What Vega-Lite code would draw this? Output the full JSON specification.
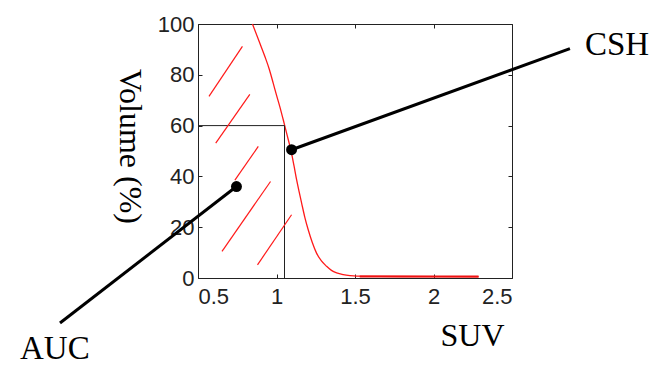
{
  "$schema": "https://vega.github.io/schema/vega-lite/v6.json",
  "width": 314,
  "height": 254,
  "autosize": "none",
  "padding": {"left": 198, "top": 24, "right": 142, "bottom": 87},
  "background": "white",
  "config": {
    "view": {"stroke": null},
    "axis": {
      "grid": false,
      "domainColor": "#222",
      "domainWidth": 1,
      "tickColor": "#222",
      "tickSize": -4,
      "labelFont": "Liberation Sans",
      "labelFontSize": 22,
      "labelColor": "#222",
      "titleFont": "Liberation Serif",
      "titleFontSize": 32,
      "titleFontWeight": "normal",
      "titleColor": "#000"
    }
  },
  "datasets": {
    "curve": [
      {"suv": 0.847, "vol": 100},
      {"suv": 0.894, "vol": 92.4},
      {"suv": 0.926, "vol": 87.2},
      {"suv": 0.955, "vol": 82.0},
      {"suv": 0.979, "vol": 76.7},
      {"suv": 1.0, "vol": 72.0},
      {"suv": 1.021, "vol": 67.5},
      {"suv": 1.043, "vol": 62.3},
      {"suv": 1.064, "vol": 57.1},
      {"suv": 1.096, "vol": 49.1},
      {"suv": 1.112, "vol": 44.0},
      {"suv": 1.128, "vol": 38.7},
      {"suv": 1.144, "vol": 34.0},
      {"suv": 1.16, "vol": 29.5},
      {"suv": 1.18, "vol": 24.0},
      {"suv": 1.202, "vol": 19.0},
      {"suv": 1.228, "vol": 14.0},
      {"suv": 1.255, "vol": 9.8},
      {"suv": 1.285, "vol": 6.8},
      {"suv": 1.319, "vol": 4.6},
      {"suv": 1.35, "vol": 3.0},
      {"suv": 1.383, "vol": 2.0},
      {"suv": 1.425, "vol": 1.3},
      {"suv": 1.468, "vol": 0.9},
      {"suv": 1.511, "vol": 0.7},
      {"suv": 1.8, "vol": 0.6},
      {"suv": 2.287, "vol": 0.5}
    ],
    "flat": [
      {"x": 1.53, "y": 0.6, "x2": 2.287, "y2": 0.6}
    ],
    "hatch": [
      {"x": 0.57, "y": 71.5, "x2": 0.783, "y2": 91.2},
      {"x": 0.613, "y": 53.1, "x2": 0.83, "y2": 72.3},
      {"x": 0.735, "y": 38.5, "x2": 0.884, "y2": 51.8},
      {"x": 0.653, "y": 10.5, "x2": 0.962, "y2": 38.0},
      {"x": 0.879, "y": 5.2, "x2": 1.096, "y2": 24.9}
    ],
    "guide": [
      {"x": 0.5, "y": 60, "x2": 1.051, "y2": 60},
      {"x": 1.051, "y": 0, "x2": 1.051, "y2": 60}
    ],
    "pointer": [
      {"x": 1.096, "y": 50.5, "x2": 2.869, "y2": 90.3},
      {"x": 0.745, "y": 36.0, "x2": -0.379, "y2": -17.7}
    ],
    "labels": [
      {"x": 2.965, "y": 87.8, "text": "CSH"},
      {"x": -0.634, "y": -32.0, "text": "AUC"}
    ]
  },
  "resolve": {"axis": {"x": "independent", "y": "independent"}},
  "layer": [
    {
      "data": {"name": "curve"},
      "mark": {"type": "line", "color": "#ff1a1a", "strokeWidth": 1.3, "interpolate": "monotone"},
      "encoding": {
        "x": {"field": "suv", "type": "quantitative",
              "scale": {"domain": [0.5, 2.5], "nice": false, "zero": false},
              "axis": {"orient": "bottom", "values": [0.5, 1, 1.5, 2, 2.5], "format": "~g", "title": "SUV",
                       "labelPadding": 12, "titleX": 274, "titleY": 67, "titleAlign": "center",
                       "titleBaseline": "alphabetic", "titleAnchor": null}},
        "y": {"field": "vol", "type": "quantitative",
              "scale": {"domain": [0, 100], "nice": false, "zero": false},
              "axis": {"orient": "left", "values": [0, 20, 40, 60, 80, 100], "title": "Volume (%)",
                       "labelPadding": 8, "titleAngle": 90, "titleX": -69, "titleY": 122,
                       "titleAlign": "center", "titleBaseline": "middle", "titleAnchor": null}}
      }
    },
    {
      "data": {"name": "flat"},
      "mark": {"type": "rule", "color": "#ee1111", "strokeWidth": 2.2},
      "encoding": {
        "x": {"field": "x", "type": "quantitative", "axis": null},
        "y": {"field": "y", "type": "quantitative", "axis": null},
        "x2": {"field": "x2"},
        "y2": {"field": "y2"}
      }
    },
    {
      "data": {"name": "guide"},
      "mark": {"type": "rule", "color": "#222", "strokeWidth": 1},
      "encoding": {
        "x": {"field": "x", "type": "quantitative",
              "axis": {"orient": "top", "values": [0.5, 1, 1.5, 2, 2.5], "labels": false, "title": null}},
        "y": {"field": "y", "type": "quantitative",
              "axis": {"orient": "right", "values": [0, 20, 40, 60, 80, 100], "labels": false, "title": null}},
        "x2": {"field": "x2"},
        "y2": {"field": "y2"}
      }
    },
    {
      "data": {"name": "hatch"},
      "mark": {"type": "rule", "color": "#ff1a1a", "strokeWidth": 1.2},
      "encoding": {
        "x": {"field": "x", "type": "quantitative", "axis": null},
        "y": {"field": "y", "type": "quantitative", "axis": null},
        "x2": {"field": "x2"},
        "y2": {"field": "y2"}
      }
    },
    {
      "data": {"name": "pointer"},
      "mark": {"type": "rule", "color": "#000", "strokeWidth": 3},
      "encoding": {
        "x": {"field": "x", "type": "quantitative", "axis": null},
        "y": {"field": "y", "type": "quantitative", "axis": null},
        "x2": {"field": "x2"},
        "y2": {"field": "y2"}
      }
    },
    {
      "data": {"name": "pointer"},
      "mark": {"type": "point", "filled": true, "color": "#000", "size": 120, "opacity": 1},
      "encoding": {
        "x": {"field": "x", "type": "quantitative", "axis": null},
        "y": {"field": "y", "type": "quantitative", "axis": null}
      }
    },
    {
      "data": {"name": "labels"},
      "mark": {"type": "text", "font": "Liberation Serif", "fontSize": 33, "align": "left", "baseline": "alphabetic", "color": "#000"},
      "encoding": {
        "x": {"field": "x", "type": "quantitative", "axis": null},
        "y": {"field": "y", "type": "quantitative", "axis": null},
        "text": {"field": "text"}
      }
    }
  ]
}
